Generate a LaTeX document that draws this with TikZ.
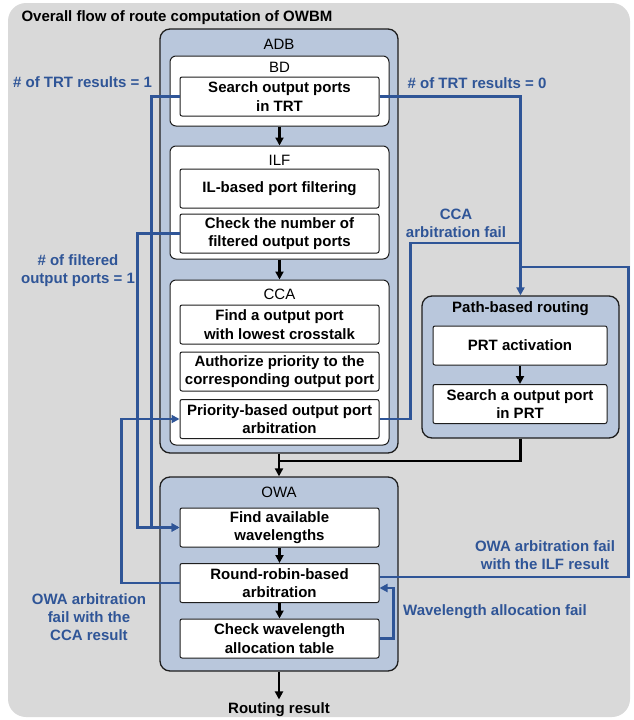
\documentclass[tikz,border=0pt]{standalone}
\usepackage{fontspec}
\setmainfont{Liberation Sans}
\usetikzlibrary{arrows.meta,calc}
\definecolor{figG}{RGB}{217,217,217}
\definecolor{figL}{RGB}{185,199,220}
\definecolor{figB}{RGB}{47,85,151}
\definecolor{figK}{RGB}{30,30,30}

\begin{document}
\begin{tikzpicture}[x=1pt,y=-1pt,>={Triangle[length=8pt,width=8pt]},
  every node/.style={font=\fontsize{15}{18.5}\selectfont},
  blk/.style={draw=figK,fill=figL,rounded corners=10pt,line width=1.3pt},
  grp/.style={draw=figK,fill=white,rounded corners=6pt,line width=1pt},
  stepbox/.style={draw=figK,fill=white,rounded corners=2pt,line width=1pt,
    minimum width=199pt,minimum height=39pt,inner sep=0pt,align=center,
    font=\fontsize{15}{18.5}\selectfont\bfseries},
  note/.style={text=figB,align=center,font=\fontsize{15}{18}\selectfont\bfseries},
  arr/.style={line width=2.4pt,black},
  flow/.style={line width=2.3pt,figB}]
\useasboundingbox (0,0) rectangle (633,720);
\fill[figG,rounded corners=18pt] (8,3) rectangle (630,717);
\node[anchor=west,font=\fontsize{15}{18}\selectfont\bfseries] (title) at (18,18) {Overall flow of route computation of OWBM};

% outer blocks
\node[blk,minimum width=238pt,minimum height=424pt] (adb) at (279,241) {};
\node[blk,minimum width=238pt,minimum height=194pt] (owa) at (279,574) {};
\node[blk,minimum width=197pt,minimum height=142pt] (prb) at (520.5,367) {};
\node (adbT) at (279,44) {ADB};
\node (owaT) at (279,492) {OWA};
\node[font=\fontsize{15}{18}\selectfont\bfseries] (prbT) at (520.5,309) {Path-based routing};

% stages of ADB
\node[grp,minimum width=219pt,minimum height=70pt] (bd) at (279.5,91) {};
\node[grp,minimum width=219pt,minimum height=113pt] (ilf) at (279.5,202.5) {};
\node[grp,minimum width=219pt,minimum height=165pt] (cca) at (279.5,362.5) {};
\node (bdT) at (279.5,67) {BD};
\node (ilfT) at (279.5,160) {ILF};
\node (ccaT) at (279.5,294) {CCA};

\node[stepbox] (search) at (279.5,96.5) {Search output ports\\in TRT};
\node[stepbox] (ilfilt) at (279.5,188.5) {IL-based port filtering};
\node[stepbox] (check) at (279.5,233.5) {Check the number of\\filtered output ports};
\node[stepbox] (lowest) at (279.5,324.5) {Find a output port\\with lowest crosstalk};
\node[stepbox] (authz) at (279.5,371.5) {Authorize priority to the\\corresponding output port};
\node[stepbox] (prio) at (279.5,419) {Priority-based output port\\arbitration};
\node[stepbox,minimum width=174pt] (prtact) at (520,345.5) {PRT activation};
\node[stepbox,minimum width=174pt] (prtsrch) at (520,404) {Search a output port\\in PRT};
\node[stepbox] (findwl) at (279.5,527.5) {Find available\\wavelengths};
\node[stepbox] (rr) at (279.5,583) {Round-robin-based\\arbitration};
\node[stepbox] (checkwl) at (279.5,638.5) {Check wavelength\\allocation table};
\node[font=\fontsize{15}{18}\selectfont\bfseries] (result) at (279,710) {Routing result};

% labels of the feedback paths
\node[note] (trtOne) at (82.5,82) {\# of TRT results = 1};
\node[note] (trtZero) at (477,83) {\# of TRT results = 0};
\node[note] (filtOne) at (78,271) {\# of filtered\\output ports = 1};
\node[note] (ccaFail) at (456,223) {CCA\\arbitration fail};
\node[note] (ilfFail) at (545,555) {OWA arbitration fail\\with the ILF result};
\node[note] (wlFail) at (495,612) {Wavelength allocation fail};
\node[note] (ccaRes) at (89,617) {OWA arbitration\\fail with the\\CCA result};

\coordinate (ccaJoin) at (520.5,243);
\coordinate (ilfJoin) at (520.5,267);
\coordinate (owaIn) at (279,461);

% main flow
\draw[->,arr] (bd) -- (ilf);
\draw[->,arr] (ilf) -- (cca);
\draw[->,arr] (adb) -- (owa);
\draw[arr] (prb.south) |- (owaIn);
\draw[->,arr] (prtact) -- (prtsrch);
\draw[->,arr] (findwl) -- (rr);
\draw[->,arr] (rr) -- (checkwl);
\draw[->,arr] (owa) -- (result);

% feedback and bypass paths
\draw[->,flow] (search.west) -- ++(-28,0) |- (findwl.west);
\draw[->,flow] (check.west) -- ++(-42,0) |- (findwl.west);
\draw[->,flow] (search.east) -| (prb.north);
\draw[flow] (prio.east) -- ++(31,0) |- (ccaJoin);
\draw[flow] ([yshift=6pt]rr.east) -- ++(249,0) |- (ilfJoin);
\draw[->,flow] (rr.west) -- ++(-58,0) |- (prio.west);
\draw[->,flow] (checkwl.east) -- ++(14,0) |- ([yshift=-5pt]rr.east);
\end{tikzpicture}
\end{document}
